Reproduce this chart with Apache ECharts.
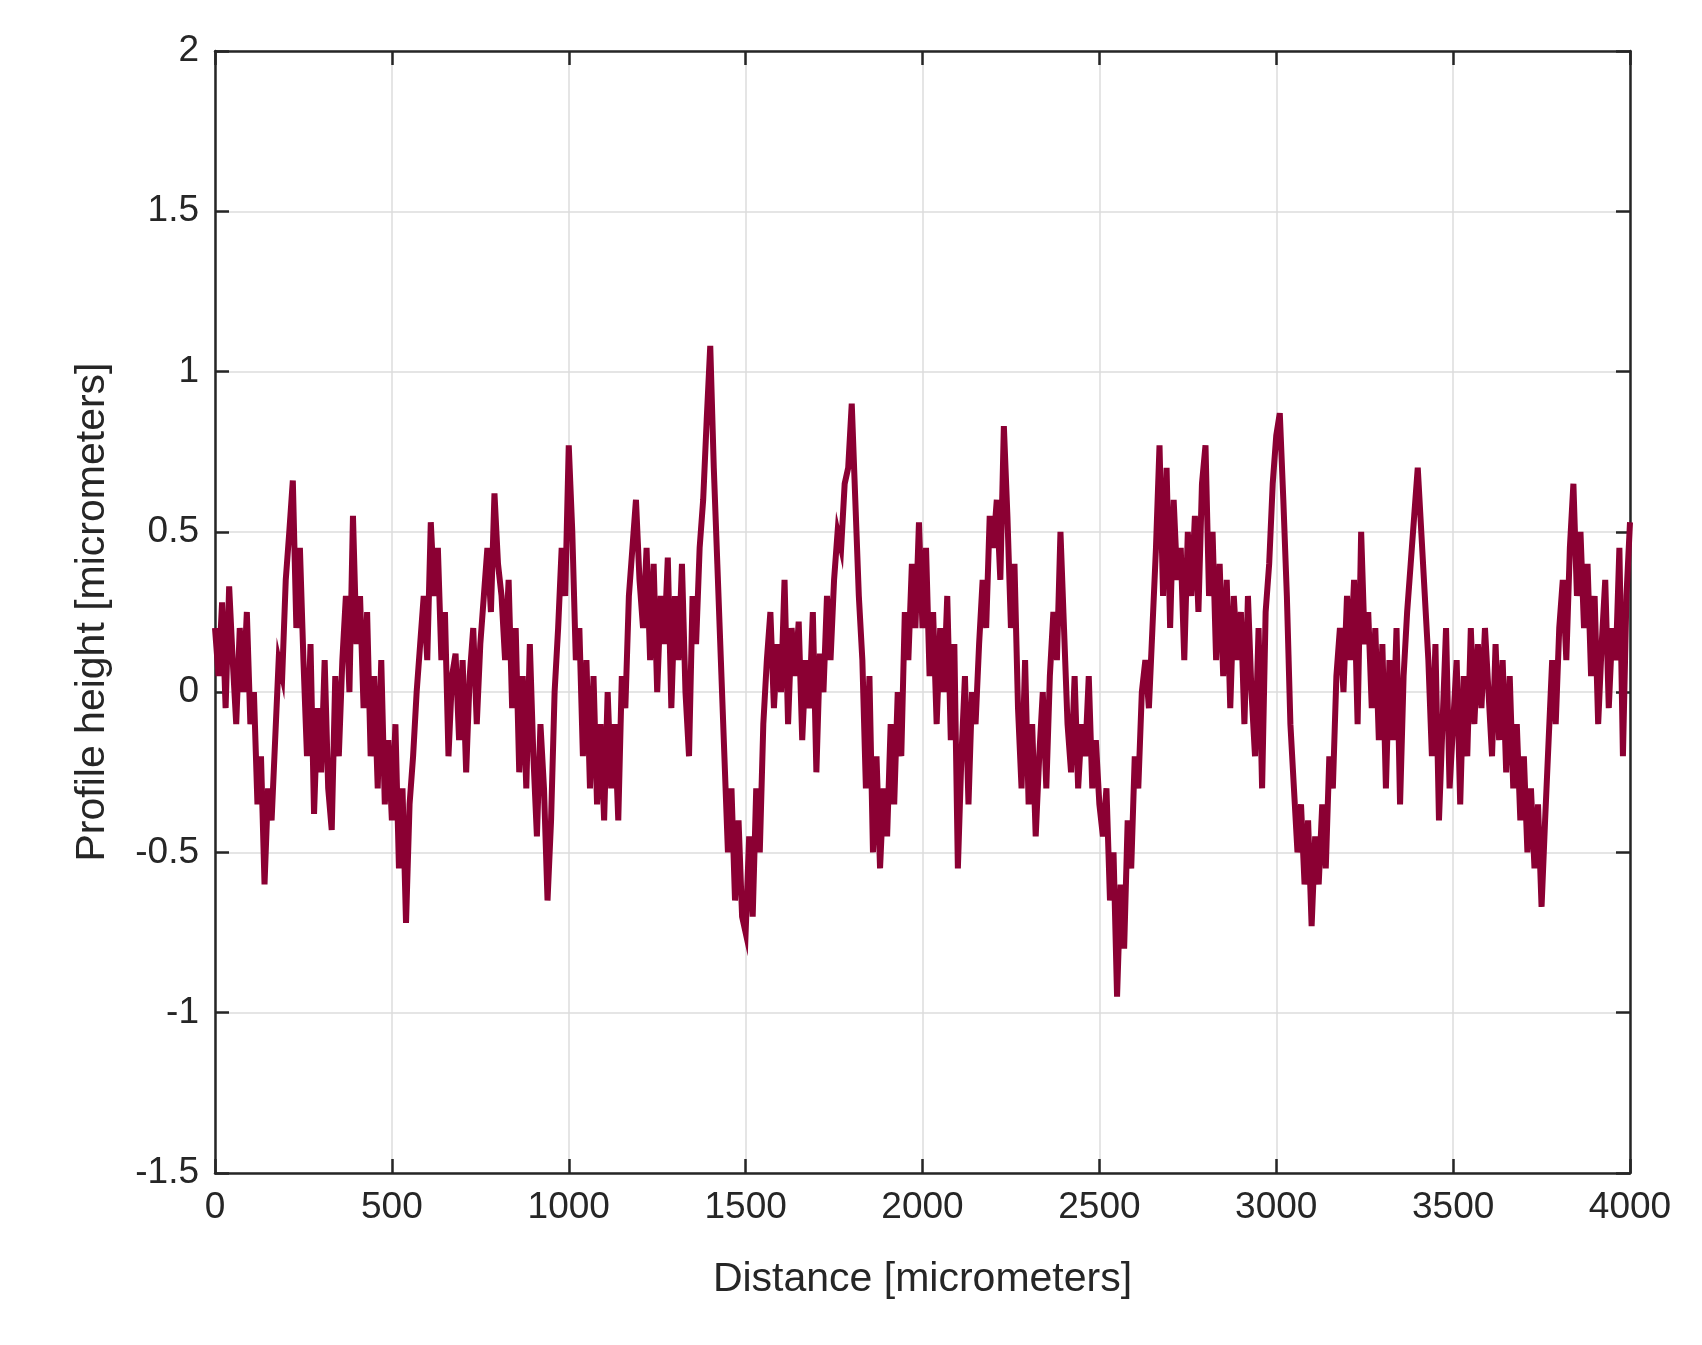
<!DOCTYPE html>
<html><head><meta charset="utf-8">
<script src="https://cdn.jsdelivr.net/npm/echarts@6/dist/echarts.min.js"></script>
<style>html,body{margin:0;padding:0;background:#fff}#c{width:1702px;height:1345px}</style>
</head><body><div id="c"></div>
<script>
const xStep = 10;
const xTicks = [0,500,1000,1500,2000,2500,3000,3500,4000];
const yTicks = [-1.5,-1,-0.5,0,0.5,1,1.5,2];
const heights = [
0.2,0.05,0.28,-0.05,0.33,0.1,-0.1,0.2,0.0,0.25,
-0.1,0.0,-0.35,-0.2,-0.6,-0.3,-0.4,-0.15,0.1,0.05,
0.35,0.5,0.66,0.2,0.45,0.1,-0.2,0.15,-0.38,-0.05,
-0.25,0.1,-0.3,-0.43,0.05,-0.2,0.1,0.3,0.0,0.55,
0.15,0.3,-0.05,0.25,-0.2,0.05,-0.3,0.1,-0.35,-0.15,
-0.4,-0.1,-0.55,-0.3,-0.72,-0.35,-0.2,0.0,0.15,0.3,
0.1,0.53,0.3,0.45,0.1,0.25,-0.2,0.05,0.12,-0.15,
0.1,-0.25,0.05,0.2,-0.1,0.15,0.3,0.45,0.25,0.62,
0.4,0.3,0.1,0.35,-0.05,0.2,-0.25,0.05,-0.3,0.15,
-0.2,-0.45,-0.1,-0.3,-0.65,-0.4,0.0,0.2,0.45,0.3,
0.77,0.5,0.1,0.2,-0.2,0.1,-0.3,0.05,-0.35,-0.1,
-0.4,0.0,-0.3,-0.1,-0.4,0.05,-0.05,0.3,0.45,0.6,
0.35,0.2,0.45,0.1,0.4,0.0,0.3,0.15,0.42,-0.05,
0.3,0.1,0.4,0.0,-0.2,0.3,0.15,0.45,0.6,0.85,
1.08,0.7,0.4,0.1,-0.2,-0.5,-0.3,-0.65,-0.4,-0.7,
-0.75,-0.45,-0.7,-0.3,-0.5,-0.1,0.1,0.25,-0.05,0.15,
0.0,0.35,-0.1,0.2,0.05,0.22,-0.15,0.1,-0.05,0.25,
-0.25,0.12,0.0,0.3,0.1,0.35,0.5,0.45,0.65,0.7,
0.9,0.6,0.3,0.1,-0.3,0.05,-0.5,-0.2,-0.55,-0.3,
-0.45,-0.1,-0.35,0.0,-0.2,0.25,0.1,0.4,0.2,0.53,
0.2,0.45,0.05,0.25,-0.1,0.2,0.0,0.3,-0.15,0.15,
-0.55,-0.2,0.05,-0.35,0.0,-0.1,0.15,0.35,0.2,0.55,
0.45,0.6,0.35,0.83,0.55,0.2,0.4,-0.05,-0.3,0.1,
-0.35,-0.1,-0.45,-0.2,0.0,-0.3,0.05,0.25,0.1,0.5,
0.2,-0.1,-0.25,0.05,-0.3,-0.1,-0.2,0.05,-0.3,-0.15,
-0.35,-0.45,-0.3,-0.65,-0.5,-0.95,-0.6,-0.8,-0.4,-0.55,
-0.2,-0.3,0.0,0.1,-0.05,0.2,0.45,0.77,0.3,0.7,
0.2,0.6,0.35,0.45,0.1,0.5,0.3,0.55,0.25,0.65,
0.77,0.3,0.5,0.1,0.4,0.05,0.35,-0.05,0.3,0.1,
0.25,-0.1,0.3,0.0,-0.2,0.2,-0.3,0.25,0.4,0.65,
0.8,0.87,0.6,0.3,-0.1,-0.3,-0.5,-0.35,-0.6,-0.4,
-0.73,-0.45,-0.6,-0.35,-0.55,-0.2,-0.3,0.05,0.2,0.0,
0.3,0.1,0.35,-0.1,0.5,0.15,0.25,-0.05,0.2,-0.15,
0.15,-0.3,0.1,-0.15,0.2,-0.35,0.05,0.25,0.4,0.55,
0.7,0.5,0.3,0.1,-0.2,0.15,-0.4,-0.1,0.2,-0.3,
-0.1,0.1,-0.35,0.05,-0.2,0.2,-0.1,0.15,-0.05,0.2,
0.0,-0.2,0.15,-0.15,0.1,-0.25,0.05,-0.3,-0.1,-0.4,
-0.2,-0.5,-0.3,-0.55,-0.35,-0.67,-0.4,-0.15,0.1,-0.1,
0.2,0.35,0.1,0.45,0.65,0.3,0.5,0.2,0.4,0.05,
0.3,-0.1,0.15,0.35,-0.05,0.2,0.1,0.45,-0.2,0.3,
0.53
];
const font = '"Liberation Sans", Arial, sans-serif';
const data = heights.map((h,i)=>[i*xStep,h]);
const chart = echarts.init(document.getElementById('c'));
function axBase(){ return {
  axisLine:{show:true,onZero:false,lineStyle:{color:'#262626',width:2.5}},
  axisTick:{show:true,inside:true,length:14,lineStyle:{color:'#262626',width:2.5}},
};}
chart.setOption({
  animation:false,
  grid:{left:215,right:72,top:51,bottom:172,show:false},
  xAxis:[
    Object.assign({type:'value',min:0,max:4000,interval:500,position:'bottom',
      name:'Distance [micrometers]',nameLocation:'middle',nameGap:86,
      nameTextStyle:{fontFamily:font,fontSize:41,color:'#262626'},
      axisLabel:{fontFamily:font,fontSize:37,color:'#262626',margin:16,
        formatter:v=>xTicks.includes(v)?String(v):''},
      splitLine:{show:true,lineStyle:{color:'#dcdcdc',width:1.5}}},axBase()),
    Object.assign({type:'value',min:0,max:4000,interval:500,position:'top',
      axisLabel:{show:false},splitLine:{show:false}},axBase())
  ],
  yAxis:[
    Object.assign({type:'value',min:-1.5,max:2,interval:0.5,position:'left',
      name:'Profile height [micrometers]',nameLocation:'middle',nameGap:102,
      nameTextStyle:{fontFamily:font,fontSize:41,color:'#262626'},
      axisLabel:{fontFamily:font,fontSize:37,color:'#262626',margin:16,
        formatter:v=>yTicks.includes(v)?String(v):''},
      splitLine:{show:true,lineStyle:{color:'#dcdcdc',width:1.5}}},axBase()),
    Object.assign({type:'value',min:-1.5,max:2,interval:0.5,position:'right',
      axisLabel:{show:false},splitLine:{show:false}},axBase())
  ],
  series:[{type:'line',data:data,showSymbol:false,symbol:'none',
    lineStyle:{color:'#8B0033',width:6,join:'miter'},itemStyle:{color:'#8B0033'}}]
});
</script></body></html>
